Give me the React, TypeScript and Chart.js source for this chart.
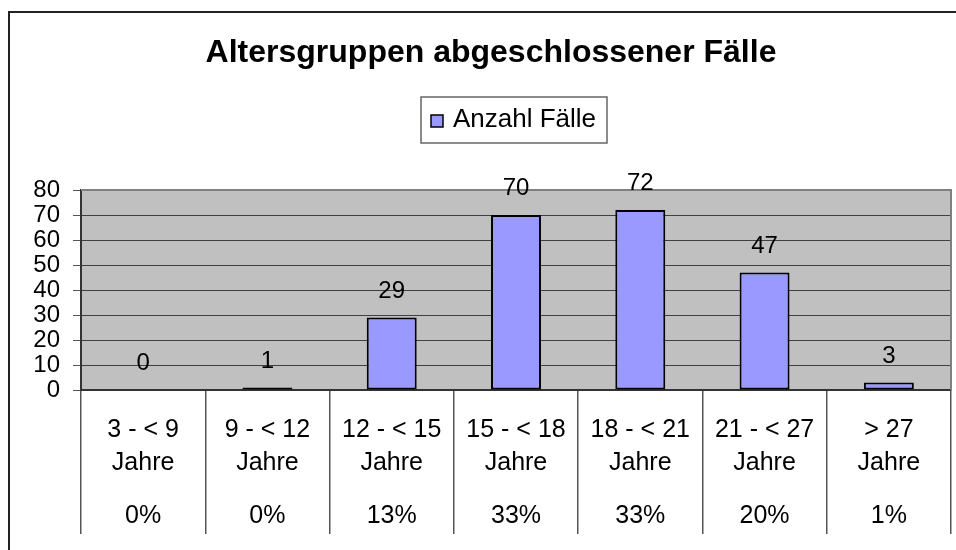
import React, { useEffect, useRef } from "react";
import { Chart, registerables } from "chart.js";

Chart.register(...registerables);

const categories = ["3 - < 9", "9 - < 12", "12 - < 15", "15 - < 18", "18 - < 21", "21 - < 27", "> 27"];
const categorySuffix = "Jahre";
const percentages = ["0%", "0%", "13%", "33%", "33%", "20%", "1%"];
const counts = [0, 1, 29, 70, 72, 47, 3];
const seriesLabel = "Anzahl Fälle";
const chartTitle = "Altersgruppen abgeschlossener Fälle";
const yTicks = [0, 10, 20, 30, 40, 50, 60, 70, 80];

const FONT = '"Liberation Sans", Arial, sans-serif';
const BAR_COLOR = "#9999FF";

const excelPlugin = {
  id: "excelLook",
  beforeDraw(chart: any) {
    const { ctx, chartArea: a } = chart;
    ctx.save();
    ctx.fillStyle = "#ffffff";
    ctx.fillRect(0, 0, chart.width, chart.height);
    ctx.fillStyle = "#C0C0C0";
    ctx.fillRect(a.left, a.top, a.right - a.left, a.bottom - a.top);
    ctx.restore();
  },
  afterDatasetsDraw(chart: any) {
    const { ctx, chartArea: a } = chart;
    ctx.save();
    ctx.strokeStyle = "#808080";
    ctx.lineWidth = 2;
    ctx.beginPath();
    ctx.moveTo(a.left, a.top);
    ctx.lineTo(a.right, a.top);
    ctx.lineTo(a.right, a.bottom);
    ctx.stroke();

    const meta = chart.getDatasetMeta(0);
    const data = chart.data.datasets[0].data as number[];
    ctx.fillStyle = "#000";
    ctx.font = `24px ${FONT}`;
    ctx.textAlign = "center";
    ctx.textBaseline = "alphabetic";
    meta.data.forEach((el: any, i: number) => {
      ctx.fillText(String(data[i]), el.x, el.y - 20);
    });
    ctx.restore();
  },
  afterDraw(chart: any) {
    const { ctx, chartArea: a } = chart;
    const xs = chart.scales.x;
    ctx.save();
    ctx.fillStyle = "#222";
    ctx.fillRect(8, 11, chart.width - 8, 2);
    ctx.fillRect(8, 11, 2, chart.height - 11);

    ctx.fillStyle = "#000";
    ctx.font = `bold 32px ${FONT}`;
    ctx.textAlign = "center";
    ctx.textBaseline = "alphabetic";
    ctx.fillText(chartTitle, 491, 62);

    ctx.strokeStyle = "#666";
    ctx.lineWidth = 1.5;
    ctx.strokeRect(421, 97, 186, 46);
    const ds = chart.data.datasets[0];
    ctx.fillStyle = ds.backgroundColor;
    ctx.fillRect(431, 115, 12, 12);
    ctx.strokeStyle = "#000";
    ctx.lineWidth = 1.5;
    ctx.strokeRect(431, 115, 12, 12);
    ctx.fillStyle = "#000";
    ctx.font = `26px ${FONT}`;
    ctx.textAlign = "left";
    ctx.fillText(ds.label, 453, 127);

    ctx.font = `25px ${FONT}`;
    ctx.textAlign = "center";
    categories.forEach((c, i) => {
      const x = xs.getPixelForValue(i);
      ctx.fillText(c, x, a.bottom + 47);
      ctx.fillText(categorySuffix, x, a.bottom + 80);
      ctx.fillText(percentages[i], x, a.bottom + 133);
    });
    ctx.restore();
  },
};

export default function App() {
  const ref = useRef<HTMLCanvasElement | null>(null);
  useEffect(() => {
    if (!ref.current) return;
    const chart = new Chart(ref.current, {
      type: "bar",
      data: {
        labels: categories,
        datasets: [
          {
            label: seriesLabel,
            data: counts,
            backgroundColor: BAR_COLOR,
            borderColor: "#000",
            borderWidth: 2,
            borderSkipped: false,
            categoryPercentage: 1,
            barPercentage: 0.402,
          },
        ],
      },
      options: {
        animation: false,
        responsive: false,
        devicePixelRatio: 1,
        layout: { padding: { top: 190, right: 5, left: 0, bottom: 0 } },
        plugins: {
          legend: { display: false },
          title: { display: false },
          tooltip: { enabled: false },
        },
        scales: {
          x: {
            afterFit: (s: any) => {
              s.height = 160;
            },
            ticks: { display: false },
            grid: {
              offset: true,
              drawOnChartArea: false,
              drawTicks: true,
              tickLength: 144,
              color: "#555",
              lineWidth: 1.5,
            },
            border: { color: "#333", width: 2 },
          },
          y: {
            min: 0,
            max: 80,
            afterFit: (s: any) => {
              s.width = 81;
            },
            afterBuildTicks: (s: any) => {
              s.ticks = yTicks.map((v) => ({ value: v }));
            },
            ticks: {
              color: "#000",
              font: { family: FONT, size: 24 },
              padding: 13,
              autoSkip: false,
            },
            grid: {
              color: "#404040",
              lineWidth: 1,
              tickLength: 8,
              tickColor: "#555",
            },
            border: { color: "#333", width: 2 },
          },
        },
      },
      plugins: [excelPlugin],
    });
    return () => chart.destroy();
  }, []);
  return (
    <div style={{ position: "fixed", left: 0, top: 0, width: 956, height: 550, background: "#fff" }}>
      <canvas ref={ref} width={956} height={550} style={{ width: 956, height: 550 }} />
    </div>
  );
}
